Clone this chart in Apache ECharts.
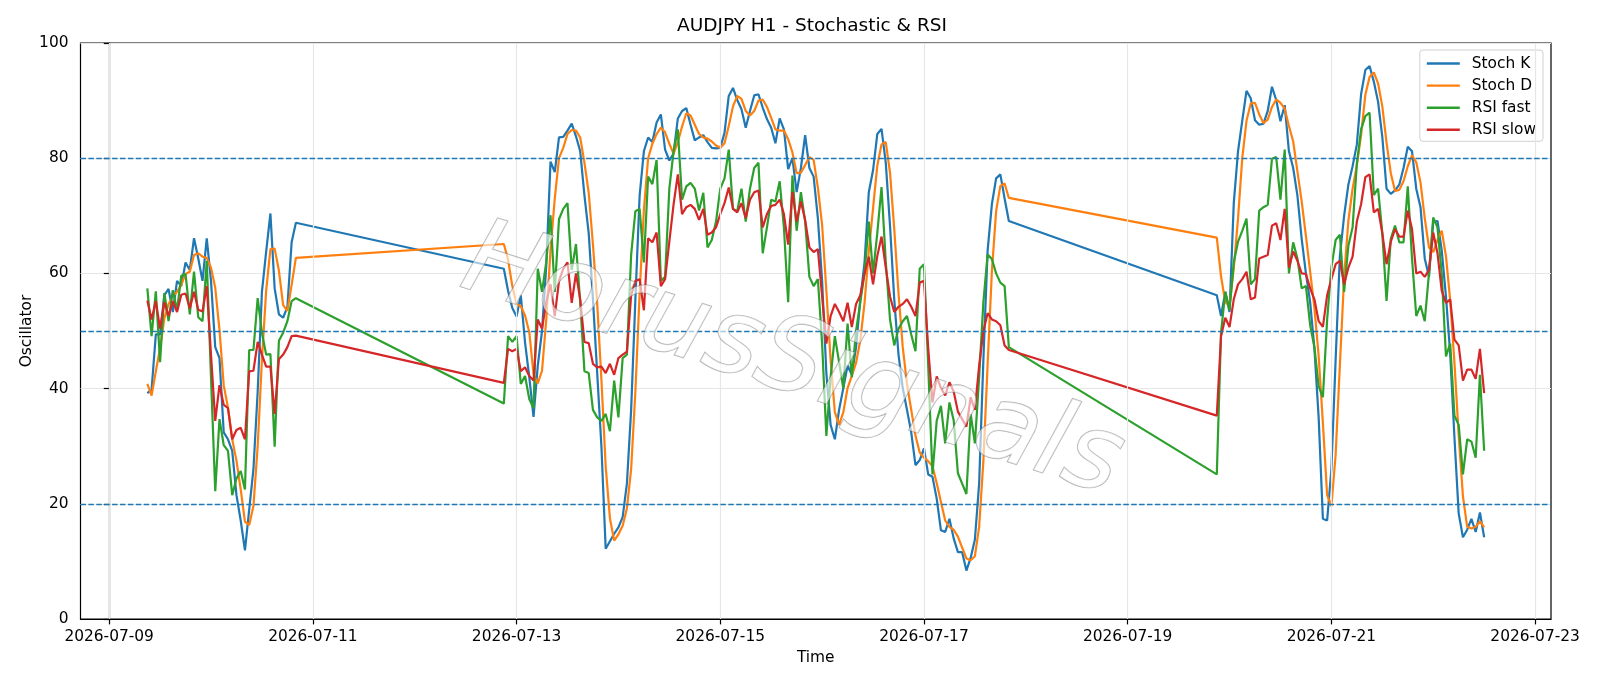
<!DOCTYPE html>
<html>
<head>
<meta charset="utf-8">
<title>AUDJPY H1 - Stochastic & RSI</title>
<script src="https://cdn.jsdelivr.net/npm/echarts@6/dist/echarts.min.js"></script>
<style>
  html, body { margin: 0; padding: 0; background: #fff; }
  #chart { width: 1600px; height: 686px; }
</style>
</head>
<body>
<div id="chart"></div>
<script>
const FONT = 'DejaVu Sans'
const ORIGIN = Date.UTC(2026, 6, 9)   // x axis counts hours from 2026-07-09 00:00 UTC

// hourly bars, three trading sessions (weekends are skipped)
const sessionStarts = ['2026-07-09T09:00:00Z', '2026-07-12T21:00:00Z', '2026-07-19T21:00:00Z']
const sessionBars = [36, 120, 64]

const stochK = [
    // 07-09 09:00 .. 07-10 20:00
    39.2, 39.8, 49.4, 49.4, 56.2, 57.3, 53.3, 58.7, 57.8, 61.9, 60.6, 66.1, 62.6, 58.7, 66.1, 58.7, 47.2, 45.3,
    32.4, 31.2, 29.2, 21.5, 17.1, 11.9, 19.0, 26.0, 39.5, 56.8, 63.8, 70.4, 57.4, 52.9, 52.3, 54.2, 65.4, 68.8,
    // 07-12 21:00 .. 07-17 20:00
    60.8, 57, 54, 52.5, 56.2, 48, 42, 35.1, 44, 50, 61.3, 79.4, 77.6, 83.6, 83.7, 84.8, 86.0, 83.8, 81.2, 73.5,
    67.0, 55.5, 42.7, 29.9, 12.2, 13.5, 14.8, 15.9, 17.7, 23.5, 36.3, 55.5, 73.5,
    81.2, 83.6, 82.8, 86.2, 87.6, 81.5, 79.6, 80.8, 86.9, 88.2, 88.7, 85.8, 83.1, 83.6, 84.0, 82.8, 81.8, 81.7,
    81.8, 84.4, 90.8, 92.2, 90.1, 88.5, 85.3, 88.2, 90.9, 91.1, 88.8, 86.8, 85.3, 82.6, 86.9, 85.0, 78.1,
    80, 74.1, 78.3, 84.0, 78.3, 76.8, 69.6, 58.7, 42.7, 33.7, 31.2, 36.3, 40.1, 44.0, 42.4, 47.2, 55.5, 61.9,
    74.1, 77.9, 84.2, 85.1, 79.2, 68.3, 55.5, 45.9, 40.1, 36.3, 32.4, 26.7, 27.6, 29.6, 25.1, 24.7, 20.9,
    15.4, 15.1, 17.4, 14, 11.6, 11.6, 8.4, 10.6, 13.8, 23.5, 45, 64, 72, 76.5, 77.2, 73, 69.1,
    // 07-19 21:00 .. 07-22 12:00
    56.2, 52.6, 56.8, 53.3, 72.2, 81.2, 86.5, 91.7, 90.4, 86.6, 85.8, 86.0, 88.2, 92.4, 90.1, 86.4, 89.2, 81.2,
    78.3, 73.5, 66, 60, 55, 47, 35, 17.4, 17.1, 26, 45, 63,
    70, 75.4, 78.6, 82.4, 91.1, 95.3, 96.0, 93.3, 89.8, 83.7, 74.7, 73.8, 74.4, 75.4, 78.3, 82.0, 81.2, 74.7,
    71.5, 62.6, 59.4, 69.0, 69.1, 64, 56, 46, 31.5, 18.3, 14.2, 15.5, 17.4, 15.1, 18.5, 14.2
]

const stochD = [
    40.8, 38.8, 43.0, 47.0, 52.2, 54.7, 56.0, 56.8, 58.0, 59.9, 60.3, 63.2, 63.5, 62.9, 62.7, 61.0, 57.5, 50.2,
    40.6, 36.7, 31.2, 27.5, 22.5, 16.9, 16.3, 19.6, 30.0, 45.0, 57.0, 64.2, 64.3, 60.5, 54.5, 53.5, 58.0, 62.7,

    65.1, 62.4, 57.8, 54.7, 54.3, 52.7, 49.8, 42.5, 40.9, 43.1, 52, 64, 73, 80, 81.8, 84.2, 84.9, 84.8, 83.6, 79.2,
    74.0, 65.0, 54.8, 41.5, 26.5, 17.5, 13.6, 14.7, 16.2, 19.2, 26.0, 39.5, 56.5,
    71, 80, 82.5, 84.2, 85.3, 84.5, 82.5, 80.8, 82.8, 85.5, 87.8, 87.4, 85.8, 84.2, 83.6, 83.4, 82.9, 82.2,
    81.8, 82.6, 85.6, 89.0, 90.8, 90.3, 88.2, 87.4, 88.2, 90.0, 90.2, 88.9, 87.0, 85.0, 84.8, 84.8, 83.3,
    81.0, 77.4, 77.5, 78.8, 80.2, 79.7, 74.9, 68.4, 57.0, 45.0, 35.9, 33.7, 35.9, 40.1, 42.2, 44.5, 48.4, 54.9,
    63.8, 71.3, 78.7, 82.4, 82.8, 77.5, 67.7, 56.6, 47.2, 40.8, 36.3, 31.8, 28.9, 28.0, 27.4, 26.5, 23.6,
    20.3, 17.1, 16.0, 15.5, 14.3, 12.4, 10.5, 10.2, 10.9, 16.0, 27.4, 44.2, 60.3, 70.8, 75.2, 75.6, 73.1,

    66.2, 59.5, 55.0, 54.3, 60.9, 69.5, 80, 86.5, 89.5, 89.6, 87.6, 86.1, 86.7, 88.9, 90.2, 89.6, 88.6, 85.6,
    82.9, 77.7, 72.5, 66.5, 60.3, 54, 45.7, 34, 21.5, 19.6, 28.5, 44,
    59.3, 69.1, 74.7, 78.8, 84.0, 91.0, 94.1, 94.9, 93.0, 89.0, 82.7, 77.4, 74.3, 74.5, 76.0, 78.6, 80.5, 79.3,
    75.8, 69.6, 64.5, 63.7, 65.8, 67.4, 63.0, 55.3, 44.5, 31.9, 21.3, 16.0, 15.7, 16.0, 17.0, 15.9
]

const rsiFast = [
    57.4, 49.1, 56.9, 44.6, 56.6, 51.7, 57.1, 53.6, 59.6, 59.9, 52.9, 60.3, 52.4, 51.7, 62.2, 42.0, 22.2, 34.7,
    30.2, 29.2, 21.5, 24.4, 25.7, 22.5, 46.7, 46.7, 55.7, 49.7, 45.9, 46.0, 29.9, 48.3, 49.7, 51.7, 55.2, 55.7,

    37.4, 49.1, 48.1, 49.1, 40.8, 42.2, 38.2, 36.6, 60.8, 56.8, 62, 70.1, 56.8, 69.4, 71.2, 72.2, 60.6, 65.1, 55,
    43.0, 42.7, 36.3, 35.0, 34.4, 35.6, 32.6, 41.4, 35.0, 45.3, 45.9, 63.2, 70.8, 71.2,
    61.9, 76.8, 75.5, 79.7, 58.7, 59.4, 74.7, 81.2, 85.0, 72.8, 75.1, 75.7, 74.7, 70.9, 74.0, 64.5, 65.8, 69.0,
    74.7, 76.5, 81.5, 71.2, 70.8, 74.7, 69.0, 74.7, 78.3, 79.2, 63.5, 68.0, 72.8, 72.5, 76.0, 68, 55,
    77.0, 67.4, 74.1, 69.0, 59.4, 57.8, 59.0, 47.8, 31.8, 42, 49.1, 44.6, 40, 51.3, 42, 50, 55, 60,
    69, 60, 67, 75, 62, 52, 47.5, 50.4, 51.7, 52.6, 49.4, 46.5, 60.8, 61.6, 44, 25.1, 34.4,
    37, 30.5, 37.6, 34.5, 25.3, 23.5, 21.7, 35.6, 30.5, 42, 55, 63.3, 62.5, 60, 58.4, 57.8, 47.2,

    25.1, 49.7, 56.8, 53.6, 61.9, 65.5, 67.4, 69.5, 58.1, 59.0, 70.9, 71.5, 71.9, 79.9, 80.2, 72.8, 81.5, 60,
    65.4, 62.6, 57.4, 57.8, 51, 47.2, 40.4, 38.5, 52,
    61, 65.8, 66.7, 56.8, 64.8, 68, 79, 85, 87.3, 87.9, 73.6, 74.7, 67, 55.2, 66, 68.3, 65.4, 65.4,
    75.1, 62.6, 52.6, 54.4, 51.7, 60, 69.7, 68, 60, 45.6, 47.8, 35.3, 33.7, 25.1, 31.2, 30.8, 28.0, 42.4, 29.2
]

const rsiSlow = [
    55.3, 52.0, 55.2, 50.4, 55.0, 52.6, 55.2, 53.3, 56.3, 56.5, 53.9, 56.8, 53.7, 53.4, 57.8, 45.9, 34.4, 40.6,
    37.2, 36.6, 31.2, 32.8, 33.2, 31.2, 43.0, 43.1, 48.1, 45.9, 43.8, 43.8, 35.6, 45.1, 45.9, 47.2, 49.1, 49.2,

    41.0, 46.9, 46.5, 46.9, 43.0, 43.7, 42.2, 41.4, 52.0, 50.4, 55, 58.1, 52.6, 58.7, 60.8, 61.9, 54.9, 60.0, 55.5,
    48.1, 47.9, 44.3, 43.7, 43.8, 42.7, 44.3, 42.4, 45.3, 45.9, 46.4, 56.2, 58.7, 59.0,
    53.6, 66.1, 65.4, 67.1, 57.8, 59.0, 65.5, 72, 77.2, 70.3, 71.5, 71.9, 71.2, 69.3, 71.2, 66.7, 67.1, 68.0,
    70.3, 72.2, 74.9, 71.2, 70.6, 72.2, 69.6, 72.8, 74.1, 74.4, 68.0, 70.3, 71.7, 71.9, 72.8, 70.3, 65,
    74.1, 69.0, 72.5, 69.3, 64.5, 63.7, 64.2, 56, 47.8, 52.6, 54.7, 53.3, 51.7, 54.9, 50.7, 54.7, 56.2, 60,
    62.9, 58.1, 63, 66.4, 61, 56, 53.3, 54.2, 54.7, 55.5, 54.2, 52.6, 58.4, 58.7, 47, 37.6, 42.1,
    40.1, 38.8, 41.1, 39.5, 36.0, 34.7, 33.4, 38.5, 36.3, 44, 50, 53.1, 52.0, 51.7, 51.0, 47.5, 46.7,

    35.3, 49.1, 52.3, 50.7, 55.5, 58.1, 59.0, 60.3, 55.5, 55.8, 62.6, 62.9, 63.2, 68.3, 68.7, 65.8, 71.2, 61.0,
    63.8, 62.2, 60.0, 59.9, 57.4, 55.5, 51.7, 50.7, 56.2, 59, 61.6, 62.2,
    58.1, 61, 62.9, 69, 72, 76.7, 77.2, 70.6, 71.2, 67, 61.6, 65.5, 67.7, 66.4, 66.4, 70.9, 67.7, 60,
    60.3, 59.4, 60.6, 67.1, 63.5, 57, 54.9, 55.5, 48.5, 47.5, 41.4, 43.3, 43.3, 41.7, 46.9, 39.2
]

const dayTicks = ['2026-07-09', '2026-07-11', '2026-07-13', '2026-07-15', '2026-07-17', '2026-07-19', '2026-07-21', '2026-07-23']
const levels = [20, 50, 80]

// x positions in hours
const hours = []
sessionStarts.forEach((s, k) => {
    const h0 = (Date.parse(s) - ORIGIN) / 3600000
    for (let j = 0; j < sessionBars[k]; j++) hours.push(h0 + j)
})
const pairs = values => values.map((v, i) => [hours[i], v])
const tickHours = dayTicks.map(d => (Date.parse(d + 'T00:00:00Z') - ORIGIN) / 3600000)

const COLORS = {
    K: '#1f77b4',
    D: '#ff7f0e',
    FAST: '#2ca02c',
    SLOW: '#d62728'
}

const lineSeries = (name, values, color) => ({
    name: name,
    type: 'line',
    data: pairs(values),
    symbol: 'none',
    showSymbol: false,
    silent: true,
    z: 3,
    lineStyle: { width: 2.2, color: color },
    itemStyle: { color: color }
})

const chart = echarts.init(document.getElementById('chart'), null, { renderer: 'canvas' })

chart.setOption({
    animation: false,
    backgroundColor: '#fff',
    title: {
        text: 'AUDJPY H1 - Stochastic & RSI',
        left: 677,
        top: 17,
        padding: 0,
        textStyle: { fontFamily: FONT, fontSize: 18.5, fontWeight: 'normal', color: '#000' }
    },
    legend: {
        data: ['Stoch K', 'Stoch D', 'RSI fast', 'RSI slow'],
        orient: 'vertical',
        right: 57,
        top: 50,
        padding: [6, 7, 4, 7],
        itemGap: 7.1,
        itemWidth: 33,
        itemHeight: 2.4,
        icon: 'rect',
        backgroundColor: 'rgba(255,255,255,0.8)',
        borderColor: '#d0d0d0',
        borderWidth: 1,
        borderRadius: 3,
        textStyle: {
            fontFamily: FONT,
            fontSize: 15.4,
            lineHeight: 15,
            color: '#000',
            padding: [0, 0, 0, 7]
        }
    },
    grid: {
        left: 80.5,
        right: 49,
        top: 43,
        bottom: 67,
        show: true,
        borderColor: '#000',
        borderWidth: 1.2,
        containLabel: false
    },
    xAxis: {
        type: 'value',
        min: -6.75,
        max: 339.75,
        name: 'Time',
        nameLocation: 'middle',
        nameGap: 31,
        nameMoveOverlap: false,
        nameTextStyle: { fontFamily: FONT, fontSize: 15.4, color: '#000' },
        axisLine: { show: true, lineStyle: { color: '#000', width: 1.2 } },
        axisTick: { show: true, customValues: tickHours, length: 5.4, lineStyle: { color: '#000', width: 1.2 } },
        axisLabel: {
            customValues: tickHours,
            margin: 10,
            fontFamily: FONT,
            fontSize: 15.4,
            color: '#000',
            formatter: v => dayTicks[tickHours.indexOf(v)] || ''
        },
        splitLine: { show: false }
    },
    yAxis: {
        type: 'value',
        min: 0,
        max: 100,
        interval: 20,
        name: 'Oscillator',
        nameLocation: 'middle',
        nameRotate: 90,
        nameGap: 46,
        nameMoveOverlap: false,
        nameTextStyle: { fontFamily: FONT, fontSize: 15.4, color: '#000' },
        axisLine: { show: true, lineStyle: { color: '#000', width: 1.2 } },
        axisTick: { show: true, length: 5.4, lineStyle: { color: '#000', width: 1.2 } },
        axisLabel: { margin: 12, fontFamily: FONT, fontSize: 15.4, color: '#000' },
        splitLine: { show: true, lineStyle: { color: '#e6e6e6', width: 1.2 } }
    },
    graphic: [{
        // watermark
        type: 'text',
        x: 792,
        y: 364,
        rotation: -0.31,
        z: 100,
        silent: true,
        style: {
            text: 'HorusSignals',
            font: 'italic 105px "DejaVu Sans"',
            fill: 'rgba(255,255,255,0.6)',
            stroke: 'rgba(110,110,110,0.55)',
            lineWidth: 1.3,
            align: 'center',
            verticalAlign: 'middle',
            textAlign: 'center',
            textVerticalAlign: 'middle',
            shadowColor: 'rgba(0,0,0,0.38)',
            shadowBlur: 2,
            shadowOffsetX: 3,
            shadowOffsetY: 4
        }
    }],
    series: [
        {
            // vertical grid at the date ticks
            name: 'xgrid',
            type: 'line',
            data: [],
            silent: true,
            z: 1,
            markLine: {
                silent: true,
                symbol: 'none',
                label: { show: false },
                lineStyle: { color: '#e6e6e6', width: 1.2, type: 'solid' },
                data: tickHours.map(h => ({ xAxis: h }))
            }
        },
        lineSeries('Stoch K', stochK, COLORS.K),
        lineSeries('Stoch D', stochD, COLORS.D),
        lineSeries('RSI fast', rsiFast, COLORS.FAST),
        lineSeries('RSI slow', rsiSlow, COLORS.SLOW),
        {
            name: 'levels',
            type: 'line',
            data: [],
            silent: true,
            z: 4,
            markLine: {
                silent: true,
                symbol: 'none',
                label: { show: false },
                lineStyle: { color: COLORS.K, width: 1.4, type: [5.5, 2.4] },
                data: levels.map(v => ({ yAxis: v }))
            }
        }
    ]
})

window.addEventListener('resize', () => chart.resize())
</script>
</body>
</html>
